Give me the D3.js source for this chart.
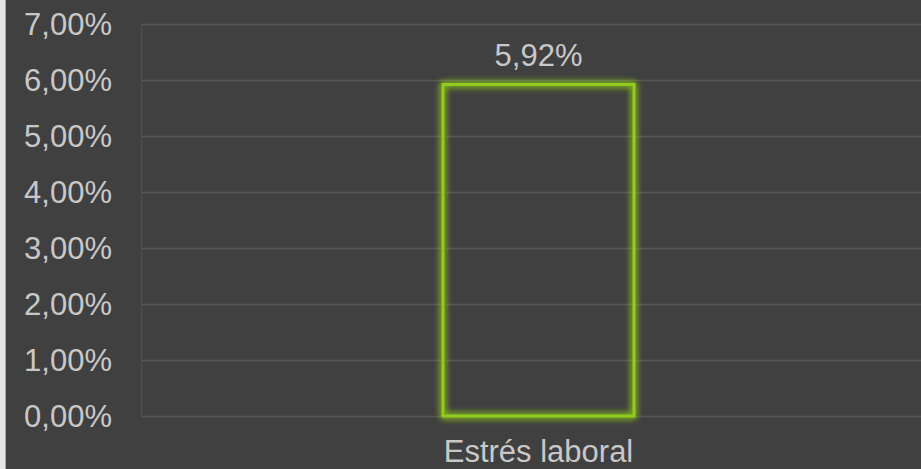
<!DOCTYPE html>
<html lang="es">
<head>
    <meta charset="UTF-8">
    <title>Estrés laboral</title>
    <script src="https://d3js.org/d3.v7.min.js"></script>
    <style>
        body { margin: 0; background: #404040; overflow: hidden; }
        text { font-family: "Liberation Sans", Arial, sans-serif; }
    </style>
</head>
<body>
    <div id="chart"></div>
    <script>
        const categories = ["Estrés laboral"];
        const values = [5.92];
        const tick_values = [0, 1, 2, 3, 4, 5, 6, 7];

        const width = 921, height = 469;
        const fmt = v => d3.format(".2f")(v).replace(".", ",") + "%";

        const svg = d3.select("#chart")
            .append("svg")
            .attr("width", width)
            .attr("height", height);

        svg.append("rect")
            .attr("width", width)
            .attr("height", height)
            .attr("fill", "#404040");

        // light strip on the left edge
        svg.append("rect")
            .attr("x", 0).attr("y", 0)
            .attr("width", 5).attr("height", height)
            .attr("fill", "#e4e4e4");
        svg.append("line")
            .attr("x1", 5.5).attr("x2", 5.5)
            .attr("y1", 0).attr("y2", height)
            .attr("stroke", "#a8a8a8");

        const defs = svg.append("defs");
        const glow = defs.append("filter")
            .attr("id", "glow")
            .attr("x", "-20%").attr("y", "-20%")
            .attr("width", "140%").attr("height", "140%");
        glow.append("feGaussianBlur")
            .attr("in", "SourceGraphic")
            .attr("stdDeviation", 3.5)
            .attr("result", "blur");
        const merge = glow.append("feMerge");
        merge.append("feMergeNode").attr("in", "blur");
        merge.append("feMergeNode").attr("in", "blur");
        merge.append("feMergeNode").attr("in", "SourceGraphic");

        const y = d3.scaleLinear()
            .domain([0, 7])
            .range([416, 24]);

        const x = d3.scaleBand()
            .domain(categories)
            .range([141, 936])
            .padding(0.6125);

        // gridlines
        svg.append("g")
            .selectAll("line")
            .data(tick_values)
            .enter()
            .append("line")
            .attr("x1", 141)
            .attr("x2", width)
            .attr("y1", d => Math.round(y(d)) + 0.5)
            .attr("y2", d => Math.round(y(d)) + 0.5)
            .attr("stroke", "#575757")
            .attr("stroke-width", 1.5);

        svg.append("line")
            .attr("x1", 141.5).attr("x2", 141.5)
            .attr("y1", y(7)).attr("y2", y(0))
            .attr("stroke", "#4e4e4e")
            .attr("stroke-width", 1.5);

        // y tick labels
        svg.append("g")
            .selectAll("text")
            .data(tick_values)
            .enter()
            .append("text")
            .attr("x", 112)
            .attr("y", d => y(d) + 11)
            .attr("text-anchor", "end")
            .attr("font-size", "31px")
            .attr("fill", "#c8c8c8")
            .text(d => fmt(d));

        // bars
        svg.append("g")
            .selectAll("rect")
            .data(values)
            .enter()
            .append("rect")
            .attr("x", (d, i) => x(categories[i]))
            .attr("y", d => y(d))
            .attr("width", x.bandwidth())
            .attr("height", d => y(0) - y(d))
            .attr("fill", "none")
            .attr("stroke", "#92cc1e")
            .attr("stroke-width", 3)
            .attr("filter", "url(#glow)");

        // value labels
        svg.append("g")
            .selectAll("text")
            .data(values)
            .enter()
            .append("text")
            .attr("x", (d, i) => x(categories[i]) + x.bandwidth() / 2)
            .attr("y", d => y(d) - 18)
            .attr("text-anchor", "middle")
            .attr("font-size", "31px")
            .attr("fill", "#c8c8c8")
            .text(d => fmt(d));

        // category labels
        svg.append("g")
            .selectAll("text")
            .data(categories)
            .enter()
            .append("text")
            .attr("x", d => x(d) + x.bandwidth() / 2)
            .attr("y", 462)
            .attr("text-anchor", "middle")
            .attr("font-size", "31px")
            .attr("fill", "#c8c8c8")
            .text(d => d);
    </script>
</body>
</html>
